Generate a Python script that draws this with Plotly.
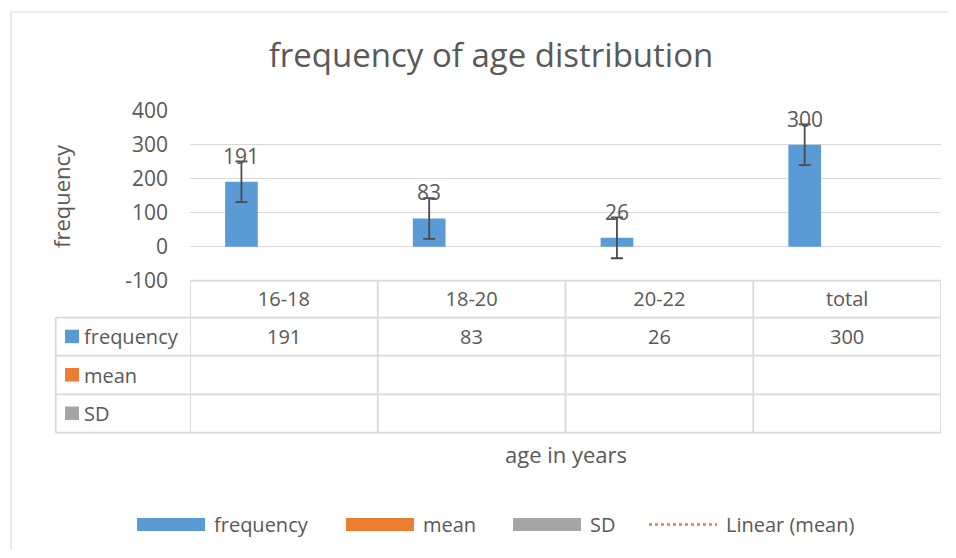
import plotly.graph_objects as go

# ---------------- data ----------------
categories = ["16-18", "18-20", "20-22", "total"]
frequency = [191, 83, 26, 300]
mean_vals = [None, None, None, None]
sd_vals = [None, None, None, None]
error_vals = [60, 60, 60, 60]
row_names = ["frequency", "mean", "SD"]
legend_names = ["frequency", "mean", "SD", "Linear (mean)"]
y_ticks = [-100, 0, 100, 200, 300, 400]
y_tick_labels = ["-100", "0", "100", "200", "300", "400"]

# ---------------- style ----------------
OFF = 8                      # page body margin
W, H = 956 - 2 * OFF, 558 - 2 * OFF
def px(x): return (x - OFF) / W
def py(y): return 1 - (y - OFF) / H

BLUE, ORANGE, GRAY = "#5B9BD5", "#ED7D31", "#A5A5A5"
TEXT, LINE, ERR = "#595959", "#D9D9D9", "#4A4A4A"
FONT = "Open Sans"

PL, PR = 190, 941          # plot area left/right (screen px)
PT, PB = 110.7, 280.7      # plot area top/bottom (screen px)
ROW_Y = [280.7, 317.7, 355.7, 394.3, 432.7]  # table horizontal lines
TABLE_LEFT = 55.7
BAR_OFFSET, BAR_WIDTH = -0.313, 0.174

fig = go.Figure()
fig.add_trace(go.Bar(
    x=categories, y=frequency, name=row_names[0],
    marker=dict(color=BLUE, line=dict(width=0)),
    offset=BAR_OFFSET, width=BAR_WIDTH,
    error_y=dict(type="data", array=error_vals, color=ERR, thickness=1.8, width=6),
    showlegend=False, hoverinfo="x+y"))
fig.add_trace(go.Bar(x=categories, y=mean_vals, name=row_names[1],
                     marker_color=ORANGE, showlegend=False))
fig.add_trace(go.Bar(x=categories, y=sd_vals, name=row_names[2],
                     marker_color=GRAY, showlegend=False))

ann = []
shapes = []

# data labels above bars
for i, v in enumerate(frequency):
    ann.append(dict(x=i + BAR_OFFSET + BAR_WIDTH / 2, y=v, xref="x", yref="y",
                    text=str(v), showarrow=False, xanchor="center", yanchor="middle",
                    yshift=26, font=dict(family=FONT, size=21, color=TEXT)))

# data table
n = len(categories)
for k, yv in enumerate(ROW_Y):
    x0 = PL if k == 0 else TABLE_LEFT
    shapes.append(dict(type="line", xref="paper", yref="paper",
                       x0=px(x0), x1=px(PR), y0=py(yv), y1=py(yv),
                       line=dict(color=LINE, width=1.8), layer="above"))
for i in range(n + 1):
    shapes.append(dict(type="line", xref="x", yref="paper",
                       x0=i - 0.5, x1=i - 0.5, y0=py(ROW_Y[0]), y1=py(ROW_Y[-1]),
                       line=dict(color=LINE, width=1.8), layer="above"))
shapes.append(dict(type="line", xref="paper", yref="paper",
                   x0=px(TABLE_LEFT), x1=px(TABLE_LEFT), y0=py(ROW_Y[1]), y1=py(ROW_Y[-1]),
                   line=dict(color=LINE, width=1.8)))

row_colors = [BLUE, ORANGE, GRAY]
row_values = [frequency, mean_vals, sd_vals]
for r, (name, col, vals) in enumerate(zip(row_names, row_colors, row_values)):
    yc = (ROW_Y[r + 1] + ROW_Y[r + 2]) / 2
    shapes.append(dict(type="rect", xref="paper", yref="paper",
                       x0=px(65), x1=px(79), y0=py(yc - 7), y1=py(yc + 6.5),
                       fillcolor=col, line=dict(width=0)))
    ann.append(dict(x=px(82), y=py(yc), xref="paper", yref="paper", text=name,
                    showarrow=False, xanchor="left", yanchor="middle",
                    font=dict(family=FONT, size=20, color=TEXT)))
    for i, v in enumerate(vals):
        if v is not None:
            ann.append(dict(x=categories[i], y=py(yc), xref="x", yref="paper",
                            text=str(v), showarrow=False, xanchor="center",
                            yanchor="middle",
                            font=dict(family=FONT, size=20, color=TEXT)))

# axis titles
ann.append(dict(x=px(61), y=py(196), xref="paper", yref="paper", text="frequency",
                textangle=-90, showarrow=False, xanchor="center", yanchor="middle",
                font=dict(family=FONT, size=22, color=TEXT)))
ann.append(dict(x=px((PL + PR) / 2), y=py(454), xref="paper", yref="paper",
                text="age in years", showarrow=False, xanchor="center", yanchor="middle",
                font=dict(family=FONT, size=22, color=TEXT)))

# legend (drawn)
LEG_Y = 524.5
leg_x = [137, 346, 513, 649]
leg_col = [BLUE, ORANGE, GRAY, ORANGE]
for k, (name, col, x0) in enumerate(zip(legend_names, leg_col, leg_x)):
    if k < 3:
        shapes.append(dict(type="rect", xref="paper", yref="paper",
                           x0=px(x0), x1=px(x0 + 68), y0=py(LEG_Y - 6.5), y1=py(LEG_Y + 6.5),
                           fillcolor=col, line=dict(width=0)))
    else:
        shapes.append(dict(type="line", xref="paper", yref="paper",
                           x0=px(x0), x1=px(x0 + 68), y0=py(LEG_Y), y1=py(LEG_Y),
                           line=dict(color=col, width=2.5, dash="dot")))
    ann.append(dict(x=px(x0 + 75), y=py(LEG_Y), xref="paper", yref="paper", text=name,
                    showarrow=False, xanchor="left", yanchor="middle",
                    font=dict(family=FONT, size=20, color=TEXT)))

# outer chart border
shapes.append(dict(type="rect", xref="paper", yref="paper",
                   x0=px(11), x1=1.1, y0=py(12), y1=-0.1,
                   line=dict(color=LINE, width=1.2), fillcolor="rgba(0,0,0,0)"))

fig.update_layout(
    width=W, height=H,
    margin=dict(l=0, r=0, t=0, b=0, autoexpand=False),
    paper_bgcolor="white", plot_bgcolor="white",
    font=dict(family=FONT, color=TEXT),
    barmode="group",
    title=dict(text="frequency of age distribution", x=px(491), y=py(55),
               xanchor="center", yanchor="middle", xref="paper", yref="paper",
               automargin=False,
               font=dict(family=FONT, size=33, color=TEXT)),
    xaxis=dict(domain=[px(PL), px(PR)], range=[-0.5, n - 0.5], showgrid=False,
               showline=False, zeroline=False, ticks="", ticklabelstandoff=4,
               automargin=False,
               tickfont=dict(family=FONT, size=20, color=TEXT), fixedrange=True),
    yaxis=dict(domain=[py(PB), py(PT)], range=[-100, 400], tickvals=y_ticks,
               ticktext=y_tick_labels,
               showgrid=True, gridcolor=LINE, gridwidth=1.3, zeroline=False,
               showline=False, ticks="", ticklabelstandoff=21, automargin=False,
               tickfont=dict(family=FONT, size=21, color=TEXT), fixedrange=True),
    annotations=ann, shapes=shapes, showlegend=False,
)

fig.write_html("out.html")
